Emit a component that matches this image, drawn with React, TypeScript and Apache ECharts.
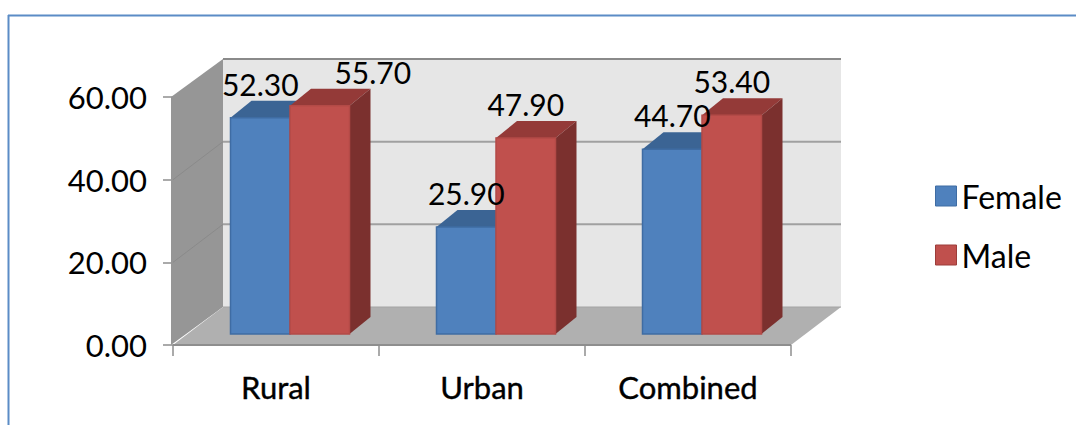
import React, { useEffect, useRef } from "react";
import * as echarts from "echarts";

const categories = ["Rural", "Urban", "Combined"];
const femaleValues = [52.3, 25.9, 44.7];
const maleValues = [55.7, 47.9, 53.4];
const yTicks = [0, 20, 40, 60];
const FONT = "Lato, 'Noto Sans', sans-serif";

const DEPTH_X = 50, DEPTH_Y = 38;
const BAR_W = 59.5, BAR_DX = 21, BAR_DY = 17, LIFT_X = 14, LIFT_Y = 11;

function wallItem(params: any, api: any) {
  const cs = params.coordSys;
  const x0 = cs.x, x1 = cs.x + cs.width, yB = cs.y + cs.height, yT = cs.y;
  const children: any[] = [
    { type: "polygon", shape: { points: [[x0 - 2, yT], [x0 + DEPTH_X, yT - DEPTH_Y], [x0 + DEPTH_X, yB - DEPTH_Y], [x0 - 2, yB]] }, style: { fill: "#969696" } },
    { type: "rect", shape: { x: x0 + DEPTH_X, y: yT - DEPTH_Y, width: cs.width, height: cs.height }, style: { fill: "#e6e6e6" } },
    { type: "polygon", shape: { points: [[x0, yB], [x0 + DEPTH_X, yB - DEPTH_Y], [x1 + DEPTH_X, yB - DEPTH_Y], [x1, yB]] }, style: { fill: "#b0b0b0" } },
  ];
  yTicks.forEach((t) => {
    const y = api.coord([0, t])[1];
    if (t > 0) {
      const c = t === 60 ? "#8a8a8a" : "#a0a0a0";
      children.push({ type: "line", shape: { x1: x0 + DEPTH_X, y1: y - DEPTH_Y, x2: x1 + DEPTH_X, y2: y - DEPTH_Y }, style: { stroke: c, lineWidth: 2 } });
      if (t < 60) children.push({ type: "line", shape: { x1: x0, y1: y, x2: x0 + DEPTH_X, y2: y - DEPTH_Y }, style: { stroke: "#8a8a8a", lineWidth: 1 } });
    } else {
      children.push({ type: "line", shape: { x1: x0 + DEPTH_X, y1: y - DEPTH_Y, x2: x1 + DEPTH_X, y2: y - DEPTH_Y }, style: { stroke: "#a4a4a4", lineWidth: 1 } });
    }
  });
  children.push({ type: "line", shape: { x1: x0, y1: yB, x2: x1, y2: yB }, style: { stroke: "#8e8e8e", lineWidth: 2 } });
  return { type: "group", children };
}

function barRenderer(side: number, front: string, border: string, top: string, right: string, topAdjust: number, labelShift: number[]) {
  return (params: any, api: any) => {
    const i = api.value(0);
    const p = api.coord([i, api.value(1)]);
    const base = api.coord([i, 0]);
    const l = p[0] + LIFT_X + (side === 0 ? -BAR_W : 0);
    const r = l + BAR_W;
    const t = p[1] - LIFT_Y + topAdjust;
    const b = base[1] - LIFT_Y;
    return {
      type: "group",
      children: [
        { type: "polygon", z2: side, shape: { points: [[l, t], [l + BAR_DX, t - BAR_DY], [r + BAR_DX, t - BAR_DY], [r, t]] }, style: { fill: top } },
        { type: "polygon", z2: side, shape: { points: [[r, t], [r + BAR_DX, t - BAR_DY], [r + BAR_DX, b - BAR_DY], [r, b]] }, style: { fill: right } },
        { type: "rect", z2: side, shape: { x: l, y: t, width: BAR_W, height: b - t }, style: { fill: front, stroke: border, lineWidth: 1.5 } },
        {
          type: "text", z2: 50,
          style: {
            x: (l + r) / 2 + labelShift[i], y: t - 34,
            text: api.value(1).toFixed(2), fill: "#000", fontFamily: FONT, fontSize: 30,
            align: "center", verticalAlign: "middle",
          },
        },
      ],
    };
  };
}

export default function App() {
  const ref = useRef<HTMLDivElement>(null);
  useEffect(() => {
    const chart = echarts.init(ref.current!, undefined, { renderer: "svg" });
    chart.setOption({
      animation: false,
      backgroundColor: "#fff",
      grid: { left: 173, top: 97, width: 618, height: 248, containLabel: false },
      xAxis: {
        type: "category", data: categories,
        axisLine: { show: false },
        axisTick: { show: true, alignWithLabel: false, length: 11, lineStyle: { color: "#8e8e8e", width: 1.5 } },
        axisLabel: { color: "#000", fontFamily: FONT, fontSize: 31, textBorderColor: "#000", textBorderWidth: 0.4, margin: 26 },
        splitLine: { show: false },
      },
      yAxis: {
        type: "value", min: 0, max: 60, interval: 20,
        axisLine: { show: false },
        axisTick: { show: true, length: 10, lineStyle: { color: "#8e8e8e", width: 1.5 } },
        axisLabel: { color: "#000", fontFamily: FONT, fontSize: 31, margin: 26, formatter: (v: number) => v.toFixed(2) },
        splitLine: { show: false },
      },
      legend: {
        orient: "vertical", left: 930, top: 175, itemWidth: 21, itemHeight: 20, itemGap: 27,
        data: [
          { name: "Female", icon: "rect", itemStyle: { color: "#4f81bd", borderColor: "#3f6ca3", borderWidth: 1 } },
          { name: "Male", icon: "rect", itemStyle: { color: "#c0504d", borderColor: "#9c3d3a", borderWidth: 1 } },
        ],
        textStyle: { color: "#000", fontFamily: FONT, fontSize: 32, padding: [0, 0, 15, 0] },
      },
      graphic: [
        { type: "line", shape: { x1: 8, y1: 15.5, x2: 1076, y2: 15.5 }, style: { stroke: "#5b8cc6", lineWidth: 2 } },
        { type: "line", shape: { x1: 8.5, y1: 15, x2: 8.5, y2: 425 }, style: { stroke: "#5b8cc6", lineWidth: 2 } },
      ],
      series: [
        { type: "custom", name: "Walls", coordinateSystem: "cartesian2d", data: [[0, 0]], renderItem: wallItem, silent: true, z: 1, encode: { x: 0, y: 1 } },
        { type: "custom", name: "Female", coordinateSystem: "cartesian2d", data: femaleValues.map((v, i) => [i, v]), renderItem: barRenderer(0, "#4f81bd", "#3f6ca3", "#3b6494", "#385d8a", 0, [0, 0, 0]), z: 2, encode: { x: 0, y: 1 }, itemStyle: { color: "#4f81bd" } },
        { type: "custom", name: "Male", coordinateSystem: "cartesian2d", data: maleValues.map((v, i) => [i, v]), renderItem: barRenderer(1, "#c0504d", "#b34a47", "#943a38", "#7b302e", 2, [53, 0, 0]), z: 2, encode: { x: 0, y: 1 }, itemStyle: { color: "#c0504d" } },
      ],
    });
    return () => chart.dispose();
  }, []);
  return <div ref={ref} style={{ position: "fixed", left: 0, top: 0, width: 1076, height: 425 }} />;
}
